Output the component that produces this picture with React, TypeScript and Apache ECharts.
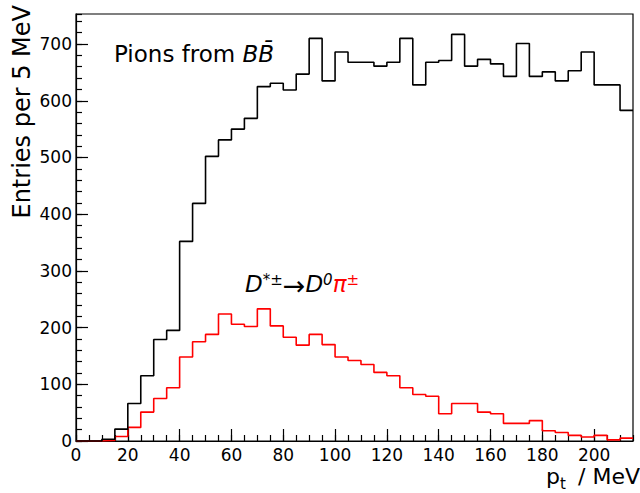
import React, { useEffect, useRef } from "react";
import * as echarts from "echarts";

// Histogram binning (5 MeV bins from 0 to 215 MeV)
const binWidth = 5;
const xMin = 0;
const xMax = 215;
const yMin = 0;
const yMax = 753;

// Entries per bin: pions from B Bbar
const pionsFromBB = [
  0, 0, 3, 21, 66, 115, 179, 195, 352, 419, 502, 531, 550, 569, 625, 631, 619,
  647, 710, 635, 686, 668, 668, 661, 668, 710, 628, 668, 671, 717, 661, 673,
  665, 643, 701, 643, 651, 635, 653, 686, 628, 628, 583,
];

// Entries per bin: pions from D*± -> D0 π±
const pionsFromDstar = [
  0, 0, 1, 8, 24, 51, 75, 94, 148, 175, 188, 224, 206, 202, 233, 203, 183, 169,
  188, 170, 148, 142, 135, 121, 115, 94, 82, 79, 48, 66, 66, 51, 48, 31, 31, 36,
  18, 15, 10, 7, 10, 2, 5,
];

const FONT = "DejaVu Sans";

function toSteps(values: number[]): [number, number][] {
  const pts: [number, number][] = values.map((v, i) => [xMin + i * binWidth, v]);
  pts.push([xMin + values.length * binWidth, values[values.length - 1]]);
  return pts;
}

export default function App() {
  const ref = useRef<HTMLDivElement>(null);

  useEffect(() => {
    if (!ref.current) return;
    const chart = echarts.init(ref.current, undefined, { renderer: "svg" });

    const labelStyle = { fontFamily: FONT, fontSize: 17, color: "#000" };
    const main = { fontFamily: FONT, fontSize: 23, lineHeight: 26, verticalAlign: "top" };
    const sup = { fontFamily: FONT, fontSize: 15, lineHeight: 20, verticalAlign: "top" };

    const option: any = {
      animation: false,
      backgroundColor: "#fff",
      grid: {
        left: 76,
        top: 14,
        right: 7,
        bottom: 52,
        show: true,
        borderColor: "#000",
        borderWidth: 1.2,
        containLabel: false,
        outerBoundsMode: "none",
      },
      xAxis: [
        {
          type: "value",
          min: xMin,
          max: xMax,
          interval: 20,
          position: "bottom",
          axisLine: { show: true, lineStyle: { color: "#000", width: 1.2 } },
          axisTick: { show: true, inside: true, length: 12, lineStyle: { color: "#000", width: 1.2 } },
          axisLabel: { ...labelStyle, margin: 5, showMaxLabel: false },
          splitLine: { show: false },
        },
        {
          type: "value",
          min: xMin,
          max: xMax,
          interval: 5,
          position: "bottom",
          axisLine: { show: false },
          axisTick: { show: true, inside: true, length: 6, lineStyle: { color: "#000", width: 1.2 } },
          axisLabel: { show: false },
          splitLine: { show: false },
        },
      ],
      yAxis: [
        {
          type: "value",
          min: yMin,
          max: yMax,
          interval: 100,
          position: "left",
          axisLine: { show: true, lineStyle: { color: "#000", width: 1.2 } },
          axisTick: { show: true, inside: true, length: 12, lineStyle: { color: "#000", width: 1.2 } },
          axisLabel: { ...labelStyle, margin: 4, showMaxLabel: false },
          splitLine: { show: false },
        },
        {
          type: "value",
          min: yMin,
          max: yMax,
          interval: 20,
          position: "left",
          axisLine: { show: false },
          axisTick: { show: true, inside: true, length: 6, lineStyle: { color: "#000", width: 1.2 } },
          axisLabel: { show: false },
          splitLine: { show: false },
        },
      ],
      series: [
        {
          name: "D*",
          type: "line",
          step: "end",
          data: toSteps(pionsFromDstar),
          xAxisIndex: 0,
          yAxisIndex: 0,
          symbol: "none",
          lineStyle: { color: "#ff0000", width: 1.6 },
          itemStyle: { color: "#ff0000" },
          z: 3,
        },
        {
          name: "BB",
          type: "line",
          step: "end",
          data: toSteps(pionsFromBB),
          xAxisIndex: 0,
          yAxisIndex: 0,
          symbol: "none",
          lineStyle: { color: "#000", width: 1.6 },
          itemStyle: { color: "#000" },
          z: 4,
        },
      ],
      graphic: [
        // y axis title
        {
          type: "text",
          x: 22,
          y: 5,
          rotation: Math.PI / 2,
          style: {
            text: "Entries per 5 MeV",
            fontFamily: FONT,
            fontSize: 24,
            fill: "#000",
            align: "right",
            verticalAlign: "middle",
          },
        },
        // x axis title
        {
          type: "text",
          x: 546,
          y: 476,
          style: { text: "p", fontFamily: FONT, fontSize: 22, fill: "#000", align: "left", verticalAlign: "middle" },
        },
        {
          type: "text",
          x: 560,
          y: 484,
          style: { text: "t", fontFamily: FONT, fontSize: 15, fill: "#000", align: "left", verticalAlign: "middle" },
        },
        {
          type: "text",
          x: 578,
          y: 476,
          style: { text: "/ MeV", fontFamily: FONT, fontSize: 22, fill: "#000", align: "left", verticalAlign: "middle" },
        },
        // Pions from B Bbar
        {
          type: "text",
          x: 114,
          y: 54,
          style: {
            text: "{n|Pions from }{b|B}{b|B\u0304}",
            fontFamily: FONT,
            fontSize: 23,
            fill: "#000",
            align: "left",
            verticalAlign: "middle",
            rich: {
              n: { fontFamily: FONT, fontSize: 23, fill: "#000" },
              b: { fontFamily: FONT, fontSize: 23, fontStyle: "italic", fill: "#000" },
            },
          },
        },
        // D*± -> D0 π±
        {
          type: "text",
          x: 245,
          y: 272,
          style: {
            text: "{d|D}{s|*±}{a|\u2192}{d|D}{s|0}{p|\u03c0}{sr|±}",
            fontFamily: FONT,
            fontSize: 23,
            fill: "#000",
            align: "left",
            verticalAlign: "top",
            rich: {
              d: { ...main, fontStyle: "italic", fill: "#000" },
              a: { ...main, fontSize: 27, fill: "#000" },
              p: { ...main, fontStyle: "italic", fill: "#ff0000" },
              s: { ...sup, fontStyle: "italic", fill: "#000" },
              sr: { ...sup, fill: "#ff0000" },
            },
          },
        },
      ],
    };

    chart.setOption(option);
    return () => chart.dispose();
  }, []);

  return (
    <div
      ref={ref}
      style={{ position: "fixed", left: 0, top: 0, width: 640, height: 493, background: "#fff" }}
    />
  );
}
